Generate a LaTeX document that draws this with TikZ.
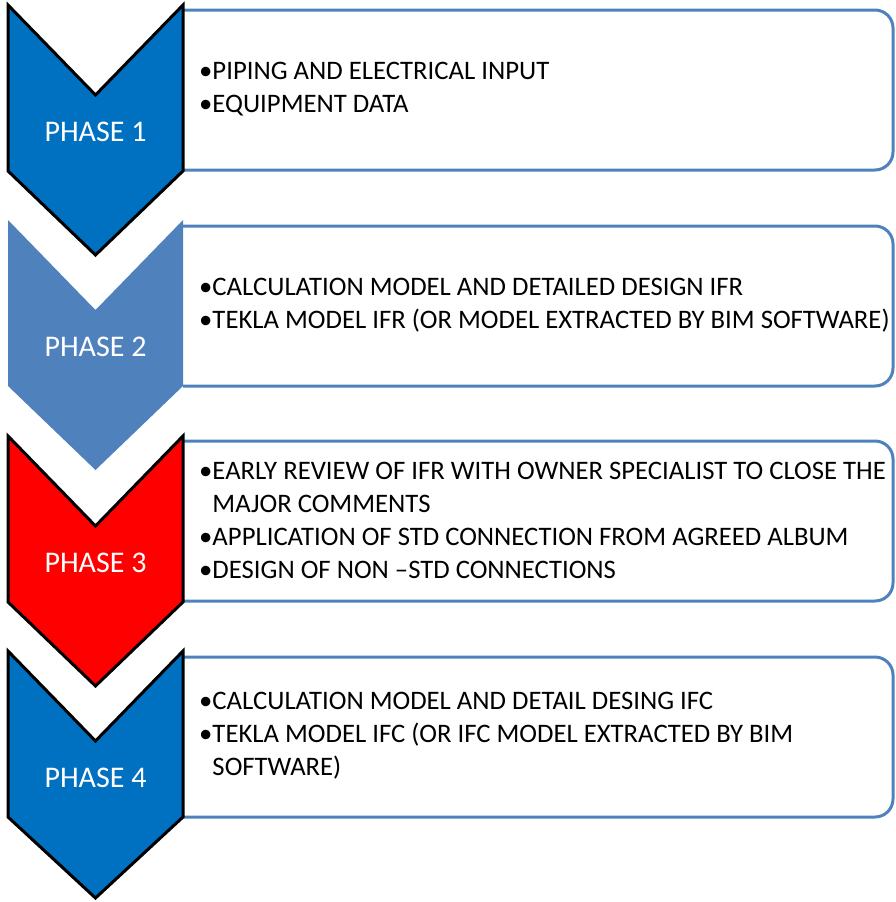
\documentclass[tikz,border=0pt]{standalone}
\usepackage{fontspec}
\setmainfont{Carlito}
\usetikzlibrary{positioning}
\definecolor{phaseblue}{RGB}{0,112,192}
\definecolor{paleblue}{RGB}{79,129,189}
\definecolor{phasered}{RGB}{255,0,0}
\newcommand{\hang}{\hphantom{•}}

\begin{document}
\begin{tikzpicture}[x=1pt, y=-1pt,
  chev/.style={line width=3pt, line join=miter},
  frame/.style={draw=paleblue, line width=3pt, rounded corners=18pt},
  phase/.style={text=white, font=\fontsize{30}{34}\selectfont},
  items/.style={anchor=west, align=left, inner sep=0pt, font=\fontsize{26.7}{33}\selectfont}]
  \useasboundingbox (0,0) rectangle (895,902);

  % frames
  \draw[frame] (183,10) -- (893,10) -- (893,170) -- (183,170);
  \draw[frame] (183,226) -- (893,226) -- (893,386) -- (183,386);
  \draw[frame] (183,441) -- (893,441) -- (893,601) -- (183,601);
  \draw[frame] (183,657) -- (893,657) -- (893,817) -- (183,817);

  % chevrons
  \filldraw[chev, fill=phaseblue] (8,5) -- (95.5,95) -- (183,5) -- (183,171) -- (95.5,255) -- (8,171) -- cycle;
  \fill[paleblue] (8,220) -- (95.5,310) -- (183,220) -- (183,386) -- (95.5,470) -- (8,386) -- cycle;
  \filldraw[chev, fill=phasered] (8,436) -- (95.5,526) -- (183,436) -- (183,602) -- (95.5,686) -- (8,602) -- cycle;
  \filldraw[chev, fill=phaseblue] (8,651) -- (95.5,741) -- (183,651) -- (183,817) -- (95.5,898) -- (8,817) -- cycle;

  \node[phase] (p1) at (95.5,132) {PHASE 1};
  \node[phase] (p2) at (95.5,347) {PHASE 2};
  \node[phase] (p3) at (95.5,563) {PHASE 3};
  \node[phase] (p4) at (95.5,778) {PHASE 4};

  % items
  \node[items] (t1) at (199,89) {•PIPING AND ELECTRICAL INPUT\\•EQUIPMENT DATA};
  \node[items] (t2) at (199,305) {•CALCULATION MODEL AND DETAILED DESIGN IFR\\•TEKLA MODEL IFR (OR MODEL EXTRACTED BY BIM SOFTWARE)};
  \node[items] (t3) at (199,520) {•EARLY REVIEW OF IFR WITH OWNER SPECIALIST TO CLOSE THE\\\hang MAJOR COMMENTS\\•APPLICATION OF STD CONNECTION FROM AGREED ALBUM\\•DESIGN OF NON –STD CONNECTIONS};
  \node[items] (t4) at (199,736) {•CALCULATION MODEL AND DETAIL DESING IFC\\•TEKLA MODEL IFC (OR IFC MODEL EXTRACTED BY BIM\\\hang SOFTWARE)};
\end{tikzpicture}
\end{document}
